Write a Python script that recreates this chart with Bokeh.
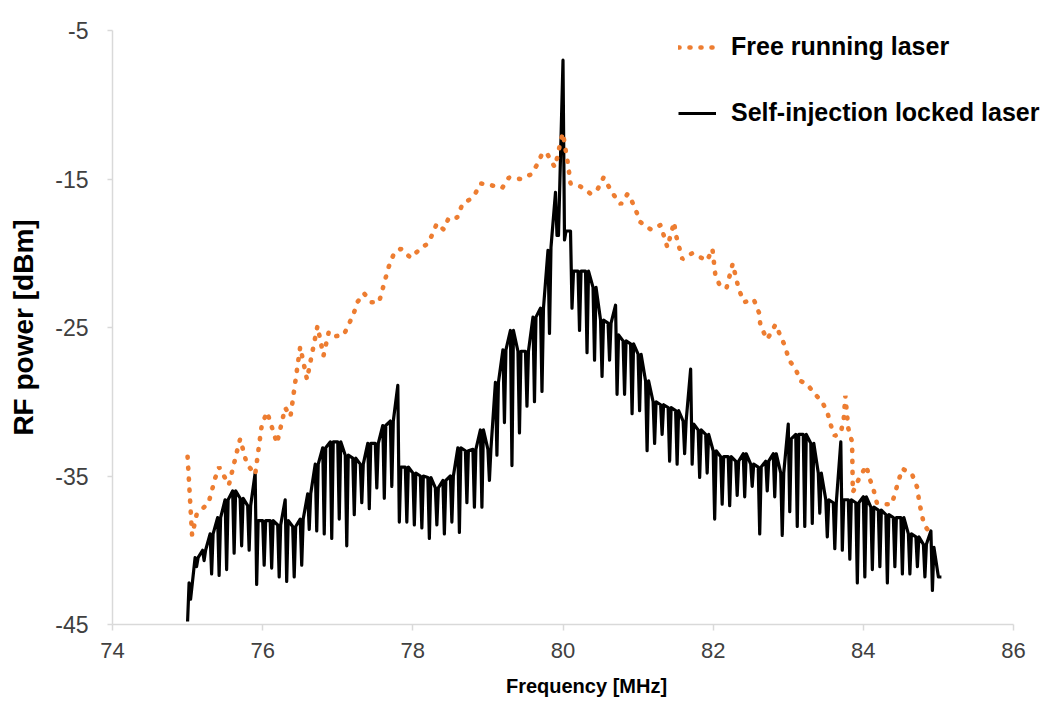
from bokeh.plotting import figure
from bokeh.models import Range1d, FixedTicker, Legend, LegendItem
from bokeh.embed import file_html
from bokeh.resources import INLINE

# ---------------- data ----------------
x_ticks = [74, 76, 78, 80, 82, 84, 86]
y_ticks = [-45, -35, -25, -15, -5]
y_tick_labels = ["-45", "-35", "-25", "-15", "-5"]

series_names = ["Free running laser", "Self-injection locked laser"]

# Free running laser (orange, dotted): points along the trace
free_freq = [75.00, 75.06, 75.12, 75.28, 75.37, 75.42, 75.55, 75.66, 75.70, 75.79,
             75.90, 75.99, 76.06, 76.19, 76.30, 76.37, 76.50, 76.59, 76.73, 76.81,
             76.88, 76.95, 77.08, 77.21, 77.26, 77.35, 77.45, 77.55, 77.63, 77.68,
             77.75, 77.84, 77.97, 78.10, 78.21, 78.32, 78.41, 78.48, 78.59, 78.66,
             78.75, 78.83, 78.90, 79.03, 79.19, 79.28, 79.43, 79.57, 79.66, 79.73,
             79.80, 79.89, 79.93, 79.97, 80.00, 80.03, 80.06, 80.08, 80.10, 80.23,
             80.37, 80.46, 80.54, 80.62, 80.68, 80.77, 80.86, 80.90, 80.97, 81.03,
             81.17, 81.30, 81.39, 81.48, 81.50, 81.59, 81.72, 81.84, 81.92, 81.99,
             82.03, 82.10, 82.18, 82.26, 82.34, 82.41, 82.54, 82.61, 82.63, 82.72,
             82.83, 82.90, 82.96, 83.01, 83.10, 83.16, 83.25, 83.34, 83.45, 83.52,
             83.58, 83.62, 83.70, 83.74, 83.76, 83.80, 83.85, 83.86, 83.94, 84.04,
             84.08, 84.14, 84.18, 84.30, 84.38, 84.43, 84.47, 84.52, 84.65, 84.72,
             84.74, 84.77, 84.81, 84.87]
free_power = [-33.7, -39.0, -37.6, -36.8, -35.1, -34.4, -35.6, -33.3, -32.5, -34.2,
              -34.9, -31.5, -30.7, -32.8, -30.4, -31.0, -26.3, -28.5, -24.9, -26.9,
              -25.3, -25.6, -25.5, -24.1, -23.3, -22.7, -23.3, -23.3, -21.8, -20.9,
              -20.0, -19.7, -20.3, -19.7, -19.3, -18.0, -18.4, -17.6, -17.6, -16.7,
              -16.4, -16.0, -15.3, -15.4, -15.6, -14.9, -15.0, -14.7, -14.0, -13.2,
              -13.4, -14.2, -13.4, -12.4, -11.9, -12.9, -13.8, -14.5, -15.3, -15.5,
              -16.0, -15.7, -14.9, -15.6, -16.1, -16.7, -16.0, -16.3, -17.1, -17.9,
              -18.4, -18.1, -19.6, -17.9, -18.7, -20.4, -20.0, -20.3, -20.5, -19.7,
              -21.5, -22.3, -22.3, -20.7, -22.4, -23.3, -23.1, -24.0, -24.9, -25.8,
              -24.8, -25.6, -26.3, -27.2, -27.8, -28.6, -28.8, -29.4, -30.0, -30.7,
              -31.8, -32.3, -32.1, -31.1, -29.6, -31.8, -32.7, -36.1, -35.2, -34.3,
              -35.1, -36.0, -36.8, -36.9, -36.9, -36.0, -35.3, -34.5, -34.9, -35.8,
              -36.6, -37.4, -38.3, -38.7]

# Self-injection locked laser (black, solid): the trace is a comb of narrow
# dips; for each comb tooth: level before the dip, bottom of the dip, level after
lock_freq = [75.0, 75.1, 75.2, 75.3, 75.4, 75.5, 75.6, 75.7, 75.8, 75.9,
             76.0, 76.1, 76.2, 76.3, 76.4, 76.5, 76.6, 76.7, 76.8, 76.9,
             77.0, 77.1, 77.2, 77.3, 77.4, 77.5, 77.6, 77.7, 77.8, 77.9,
             78.0, 78.1, 78.2, 78.3, 78.4, 78.5, 78.6, 78.7, 78.8, 78.9,
             79.0, 79.1, 79.2, 79.3, 79.4, 79.5, 79.6, 79.7, 79.8, 79.9,
             80.0, 80.1, 80.2, 80.3, 80.4, 80.5, 80.6, 80.7, 80.8, 80.9,
             81.0, 81.1, 81.2, 81.3, 81.4, 81.5, 81.6, 81.7, 81.8, 81.9,
             82.0, 82.1, 82.2, 82.3, 82.4, 82.5, 82.6, 82.7, 82.8, 82.9,
             83.0, 83.1, 83.2, 83.3, 83.4, 83.5, 83.6, 83.7, 83.8, 83.9,
             84.0, 84.1, 84.2, 84.3, 84.4, 84.5, 84.6, 84.7, 84.8, 84.9,
             85.0]
lock_top = [-44.8, -40.5, -40.0, -38.9, -37.8, -36.6, -36.0, -36.5, -37.0, -34.8,
            -38.0, -38.0, -38.3, -36.6, -38.4, -37.9, -36.2, -34.2, -33.1, -32.7,
            -32.7, -33.6, -33.8, -34.2, -32.8, -32.8, -31.6, -31.3, -28.9, -34.4,
            -34.8, -35.0, -35.1, -35.8, -35.3, -35.0, -33.1, -33.3, -33.2, -31.9,
            -33.2, -28.7, -26.5, -25.2, -26.6, -26.6, -24.3, -23.7, -19.8, -15.9,
            -7.0, -18.5, -21.2, -21.2, -22.3, -24.5, -24.7, -23.5, -25.9, -26.1,
            -26.8, -28.6, -30.0, -30.2, -30.4, -30.6, -31.3, -27.8, -31.9, -32.2,
            -33.3, -33.7, -33.7, -34.0, -33.5, -34.2, -34.4, -34.0, -33.5, -34.8,
            -31.5, -32.2, -32.2, -32.8, -34.8, -36.6, -36.8, -32.7, -36.6, -36.8,
            -36.4, -37.1, -37.3, -37.6, -37.8, -37.8, -38.9, -39.1, -39.6, -38.7,
            -41.8]
lock_dip = [-42.2, -41.1, -40.7, -41.6, -41.7, -41.3, -40.2, -39.7, -40.0, -42.3,
            -41.0, -41.2, -41.8, -42.1, -41.8, -41.0, -38.6, -38.7, -38.9, -39.2,
            -37.9, -39.7, -37.6, -36.8, -37.2, -35.8, -36.5, -35.7, -38.1, -38.1,
            -38.3, -38.5, -39.2, -38.3, -38.9, -38.1, -38.8, -36.8, -37.1, -37.1,
            -35.3, -33.6, -31.4, -34.3, -32.1, -30.3, -30.0, -29.3, -25.4, -18.8,
            -19.1, -23.7, -25.2, -26.7, -27.2, -28.3, -27.2, -29.5, -29.5, -30.8,
            -30.6, -33.3, -32.8, -32.2, -34.0, -34.2, -33.5, -34.2, -35.1, -34.8,
            -37.9, -36.9, -37.0, -36.3, -36.4, -35.7, -38.9, -36.0, -36.4, -39.0,
            -37.4, -38.4, -38.4, -38.2, -37.5, -39.1, -39.9, -40.0, -40.6, -42.2,
            -41.8, -41.3, -41.1, -42.2, -41.1, -41.6, -41.6, -41.1, -41.8, -42.7,
            -41.8]
lock_back = [-43.3, -40.5, -40.0, -38.9, -37.8, -36.6, -36.0, -36.5, -37.0, -38.0,
             -38.0, -38.0, -38.3, -38.0, -38.4, -37.9, -36.2, -34.2, -33.1, -32.7,
             -32.7, -33.6, -33.8, -34.2, -32.8, -32.8, -31.6, -31.3, -34.4, -34.4,
             -34.8, -35.0, -35.1, -35.8, -35.3, -35.0, -33.1, -33.3, -33.2, -31.9,
             -33.2, -28.7, -26.5, -25.2, -26.6, -26.6, -24.3, -23.7, -19.6, -18.8,
             -18.5, -21.2, -21.2, -21.2, -22.3, -24.5, -24.7, -25.5, -25.9, -26.1,
             -26.8, -28.6, -30.0, -30.2, -30.4, -30.6, -31.3, -31.5, -31.9, -32.2,
             -33.3, -33.7, -33.7, -34.0, -33.5, -34.2, -34.4, -34.0, -33.5, -34.8,
             -32.5, -32.2, -32.2, -32.8, -34.8, -36.6, -36.8, -36.6, -36.6, -36.8,
             -36.4, -37.1, -37.3, -37.6, -37.8, -37.8, -38.9, -39.1, -39.6, -39.8,
             -41.8]

# path of the comb trace, built from the tooth arrays
tooth_offsets = (0.0, 0.02, 0.04)
lock_x, lock_y = [], []
for f, a, b, c in zip(lock_freq, lock_top, lock_dip, lock_back):
    for off, val in zip(tooth_offsets, (a, b, c)):
        lock_x.append(f + off)
        lock_y.append(val)

# ---------------- figure ----------------
W, H = 1060, 702
x_end = 74 + 12 * (W - 112) / 901.0   # keep 74..86 over 901 px, room for legend

p = figure(width=W, height=H, output_backend="svg", toolbar_location=None,
           x_range=Range1d(74, x_end), y_range=Range1d(-45, -5),
           min_border_left=112, min_border_right=0, min_border_top=30,
           min_border_bottom=78)
p.outline_line_color = None
p.grid.visible = False
p.background_fill_color = "white"

r_lock = p.line(lock_x, lock_y, line_color="black", line_width=3.2,
                line_join="round")
r_free = p.line(free_freq, free_power, line_color="#ED7D31", line_width=4.6,
                line_dash="1 10", line_cap="round")

axis_grey = "#D9D9D9"
for ax in (p.xaxis[0], p.yaxis[0]):
    ax.axis_line_color = axis_grey
    ax.axis_line_width = 1.5
    ax.major_tick_line_color = axis_grey
    ax.major_tick_line_width = 1.5
    ax.major_tick_in = 0
    ax.minor_tick_line_color = None
    ax.major_label_text_color = "#404040"

p.xaxis.bounds = (x_ticks[0], x_ticks[-1])
p.xaxis.ticker = FixedTicker(ticks=x_ticks)
p.xaxis.major_tick_out = 6
p.xaxis.major_label_standoff = 12
p.xaxis.major_label_text_font = "Liberation Sans"
p.xaxis.major_label_text_font_size = "22px"
p.xaxis.axis_label = "Frequency [MHz]"
p.xaxis.axis_label_text_font = "Liberation Sans"
p.xaxis.axis_label_text_font_style = "bold"
p.xaxis.axis_label_text_font_size = "20px"
p.xaxis.axis_label_text_color = "black"
p.xaxis.axis_label_standoff = 14

p.yaxis.ticker = FixedTicker(ticks=y_ticks)
p.yaxis.major_label_overrides = dict(zip(y_ticks, y_tick_labels))
p.yaxis.major_tick_out = 5
p.yaxis.major_label_standoff = 19
p.yaxis.major_label_text_font = "Liberation Sans"
p.yaxis.major_label_text_font_size = "23px"
p.yaxis.axis_label = "RF power [dBm]"
p.yaxis.axis_label_text_font = "Liberation Sans"
p.yaxis.axis_label_text_font_style = "bold"
p.yaxis.axis_label_text_font_size = "28px"
p.yaxis.axis_label_text_color = "black"
p.yaxis.axis_label_standoff = 13

legend = Legend(items=[LegendItem(label=series_names[0], renderers=[r_free]),
                       LegendItem(label=series_names[1], renderers=[r_lock])],
                location=(566, 497))
legend.label_text_font = "Liberation Sans"
legend.label_text_font_style = "bold"
legend.label_text_font_size = "25px"
legend.label_text_color = "black"
legend.glyph_width = 38
legend.glyph_height = 20
legend.label_standoff = 15
legend.spacing = 37
legend.padding = 0
legend.margin = 0
legend.border_line_color = None
legend.background_fill_alpha = 0
p.add_layout(legend)

open("out.html", "w").write(file_html(p, INLINE))
